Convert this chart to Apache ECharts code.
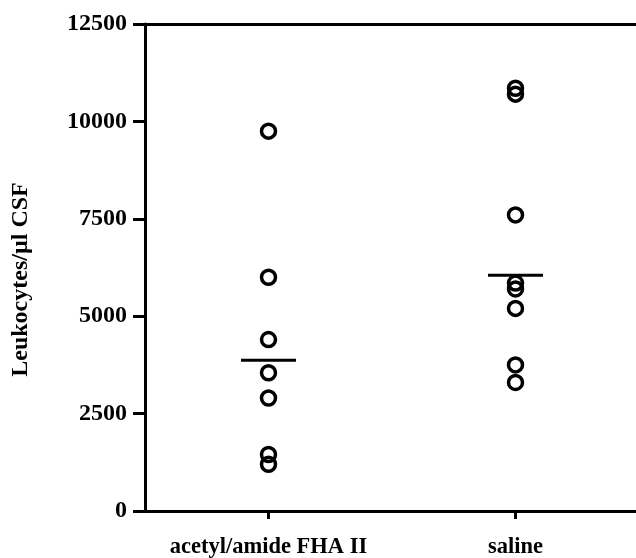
<!DOCTYPE html>
<html>
<head>
<meta charset="utf-8">
<script src="https://cdn.jsdelivr.net/npm/echarts@6/dist/echarts.min.js"></script>
<style>
html,body{margin:0;padding:0;background:#fff;}
#chart{width:636px;height:558px;}
</style>
</head>
<body>
<div id="chart"></div>
<script>
const categories = ['acetyl/amide FHA II', 'saline'];
const fhaValues = [9750, 6000, 4400, 3550, 2900, 1450, 1200];
const salineValues = [10850, 10700, 7600, 5850, 5700, 5200, 3750, 3300];
const meanValues = [3870, 6050];
const yMin = 0, yMax = 12500, yStep = 2500;
const yTitle = 'Leukocytes/µl CSF';

const font = 'Liberation Serif';
const chart = echarts.init(document.getElementById('chart'));
const circleStyle = { color: 'rgba(0,0,0,0)', borderColor: '#000', borderWidth: 3.5, opacity: 1 };
chart.setOption({
  animation: false,
  backgroundColor: '#fff',
  grid: { left: 145, right: -3, top: 24, bottom: 47, show: false, outerBoundsMode: 'none' },
  xAxis: [{
    type: 'category',
    data: categories,
    boundaryGap: true,
    axisLine: { show: true, lineStyle: { color: '#000', width: 3 } },
    axisTick: { show: true, alignWithLabel: true, length: 8, lineStyle: { color: '#000', width: 3 } },
    axisLabel: { show: true, interval: 0, color: '#000', fontFamily: font, fontWeight: 'bold', fontSize: 22.5, margin: 25 },
    splitLine: { show: false }
  }, {
    type: 'category',
    position: 'top',
    data: categories,
    axisLine: { show: true, lineStyle: { color: '#000', width: 3 } },
    axisTick: { show: false },
    axisLabel: { show: false },
    splitLine: { show: false }
  }],
  yAxis: {
    type: 'value',
    min: yMin, max: yMax, interval: yStep,
    name: yTitle,
    nameLocation: 'middle',
    nameGap: 112,
    nameTextStyle: { color: '#000', fontFamily: font, fontWeight: 'bold', fontSize: 24, padding: [0, 24, 0, 0] },
    axisLine: { show: true, lineStyle: { color: '#000', width: 3 } },
    axisTick: { show: true, length: 12, lineStyle: { color: '#000', width: 3 } },
    axisLabel: { color: '#000', fontFamily: font, fontWeight: 'bold', fontSize: 24, margin: 18,
                 formatter: v => String(v) },
    splitLine: { show: false }
  },
  series: [
    { type: 'scatter', symbol: 'circle', symbolSize: 14, itemStyle: circleStyle,
      data: fhaValues.map(v => [categories[0], v]) },
    { type: 'scatter', symbol: 'circle', symbolSize: 14, itemStyle: circleStyle,
      data: salineValues.map(v => [categories[1], v]) },
    { type: 'scatter', symbol: 'rect', symbolSize: [55, 3], itemStyle: { color: '#000', opacity: 1 }, z: 3,
      data: meanValues.map((v, i) => [categories[i], v]) }
  ]
});
</script>
</body>
</html>
